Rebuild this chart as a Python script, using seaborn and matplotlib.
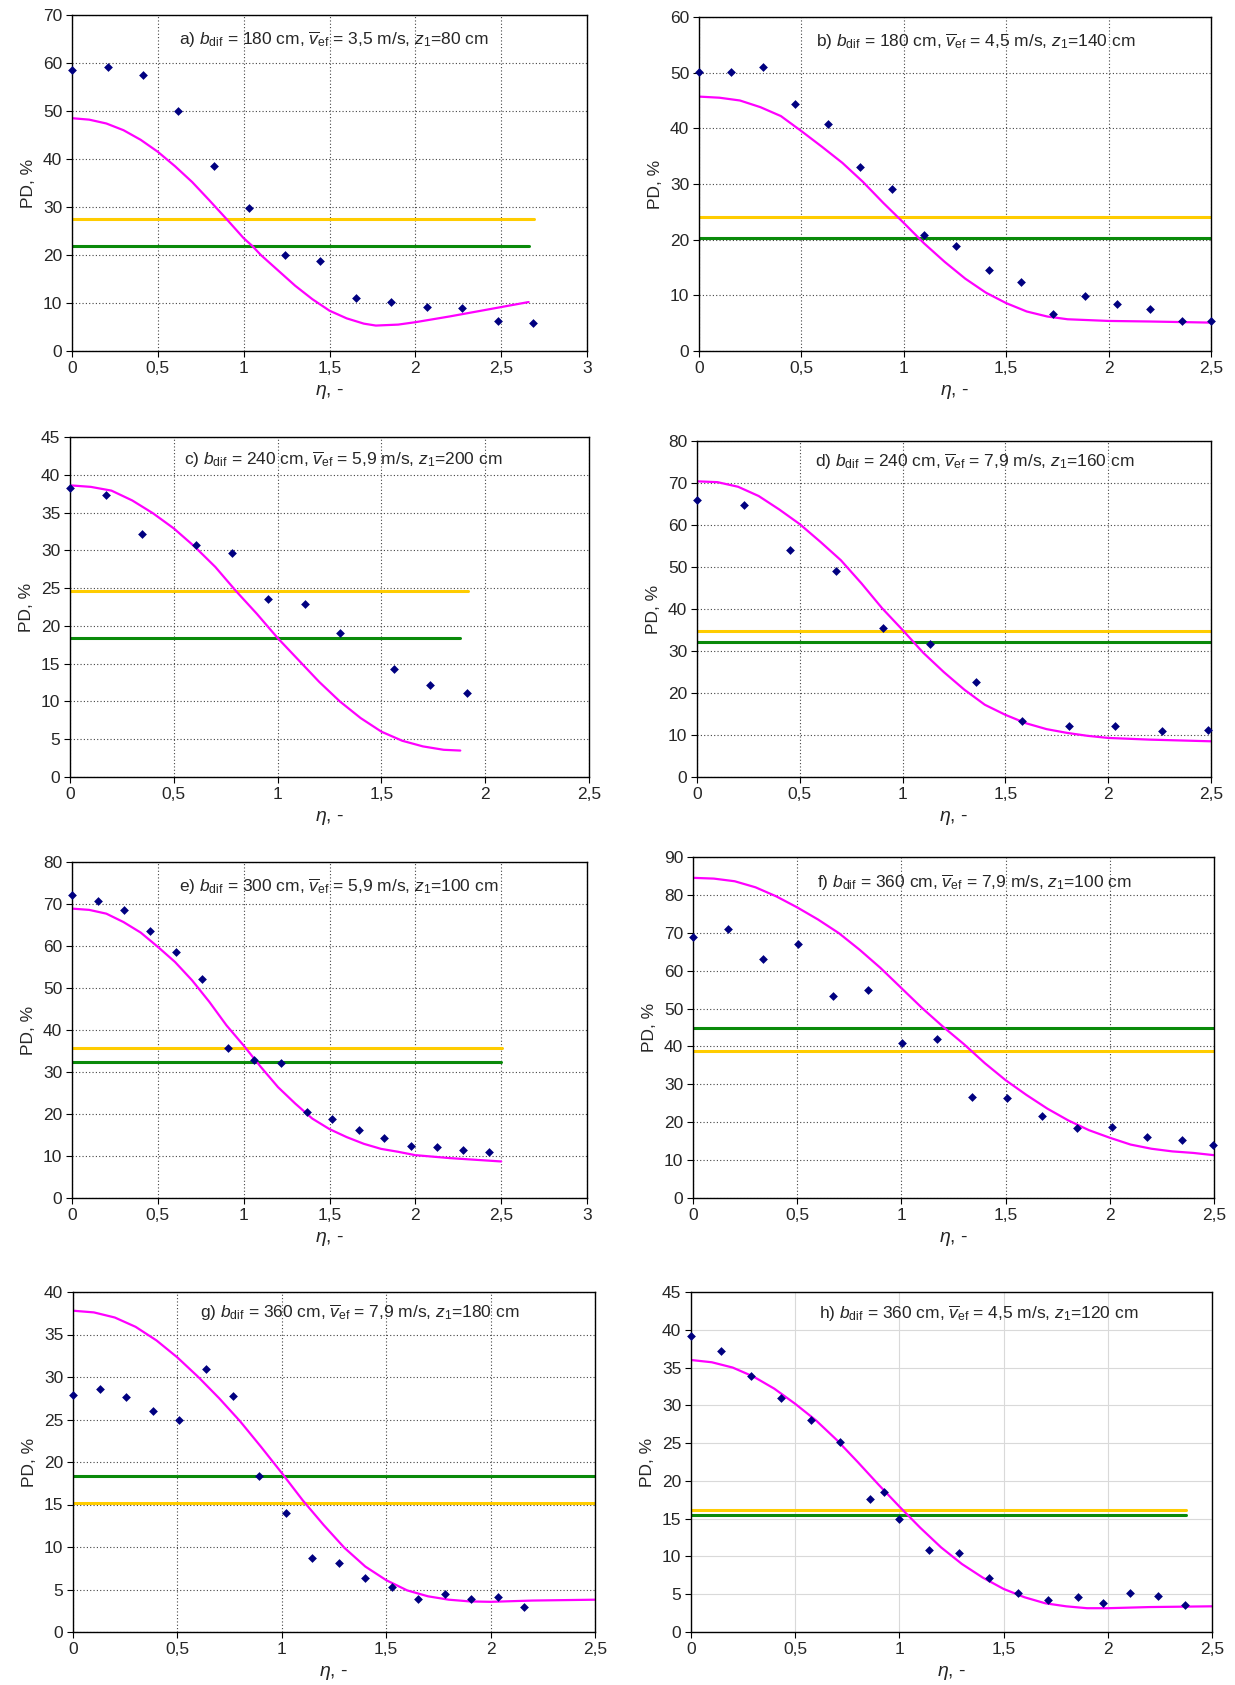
import matplotlib
matplotlib.use("Agg")
import matplotlib.pyplot as plt
from matplotlib.ticker import MultipleLocator, FuncFormatter
import seaborn as sns

# ---- measured points (eta, PD %) ----
a_eta = [0, 0.207, 0.413, 0.62, 0.827, 1.033, 1.24, 1.447, 1.653, 1.86, 2.067, 2.273, 2.48, 2.687]
a_pd = [58.6, 59.1, 57.6, 50.1, 38.5, 29.7, 19.9, 18.8, 11.0, 10.3, 9.2, 8.9, 6.3, 5.9]
b_eta = [0, 0.157, 0.314, 0.471, 0.628, 0.785, 0.943, 1.10, 1.257, 1.414, 1.571, 1.728, 1.885, 2.04, 2.2, 2.356, 2.5]
b_pd = [50.2, 50.2, 51.1, 44.4, 40.8, 33.1, 29.1, 20.9, 18.8, 14.6, 12.4, 6.7, 9.8, 8.4, 7.5, 5.3, 5.3]
c_eta = [0, 0.174, 0.349, 0.609, 0.781, 0.956, 1.13, 1.30, 1.563, 1.735, 1.91]
c_pd = [38.3, 37.3, 32.2, 30.7, 29.6, 23.6, 22.9, 19.1, 14.3, 12.2, 11.1]
d_eta = [0, 0.227, 0.452, 0.677, 0.904, 1.131, 1.358, 1.583, 1.81, 2.035, 2.26, 2.487]
d_pd = [65.9, 64.7, 54.0, 49.1, 35.4, 31.6, 22.6, 13.4, 12.2, 12.2, 10.9, 11.2]
e_eta = [0, 0.152, 0.302, 0.454, 0.606, 0.759, 0.911, 1.063, 1.215, 1.367, 1.517, 1.669, 1.82, 1.974, 2.126, 2.278, 2.43]
e_pd = [72.1, 70.7, 68.5, 63.6, 58.5, 52.2, 35.7, 32.8, 32.1, 20.5, 18.7, 16.2, 14.2, 12.4, 12.2, 11.5, 11.0]
f_eta = [0, 0.168, 0.335, 0.503, 0.67, 0.838, 1.005, 1.173, 1.34, 1.508, 1.675, 1.843, 2.012, 2.18, 2.348, 2.494]
f_pd = [69.0, 70.9, 63.1, 67.1, 53.2, 54.8, 40.9, 41.9, 26.7, 26.5, 21.7, 18.5, 18.8, 16.1, 15.4, 14.0]
g_eta = [0, 0.129, 0.255, 0.382, 0.509, 0.637, 0.764, 0.89, 1.019, 1.146, 1.272, 1.399, 1.526, 1.654, 1.781, 1.908, 2.034, 2.161]
g_pd = [27.9, 28.6, 27.7, 26.0, 24.9, 31.0, 27.8, 18.3, 14.0, 8.7, 8.1, 6.3, 5.3, 3.9, 4.5, 3.9, 4.1, 3.0]
h_eta = [0, 0.145, 0.288, 0.431, 0.574, 0.715, 0.858, 0.924, 1.0, 1.142, 1.285, 1.428, 1.571, 1.714, 1.855, 1.977, 2.107, 2.239, 2.37]
h_pd = [39.2, 37.2, 33.9, 31.0, 28.0, 25.2, 17.6, 18.5, 14.9, 10.8, 10.4, 7.1, 5.2, 4.3, 4.6, 3.8, 5.1, 4.7, 3.6]

# ---- model curves ----
a_cx = [0, 0.1, 0.2, 0.3, 0.4, 0.5, 0.6, 0.7, 0.8, 0.9, 1.0, 1.05, 1.1, 1.2, 1.3, 1.4, 1.5, 1.6, 1.7, 1.77, 1.9, 2.0, 2.2, 2.4, 2.66]
a_cy = [48.5, 48.2, 47.4, 46.0, 44.0, 41.5, 38.5, 35.2, 31.4, 27.5, 23.5, 21.9, 20.0, 16.8, 13.6, 10.8, 8.4, 6.8, 5.7, 5.3, 5.5, 6.0, 7.2, 8.5, 10.2]
b_cx = [0, 0.1, 0.2, 0.3, 0.4, 0.5, 0.6, 0.7, 0.8, 0.9, 1.0, 1.1, 1.2, 1.3, 1.4, 1.5, 1.6, 1.7, 1.8, 2.0, 2.2, 2.5]
b_cy = [45.7, 45.5, 45.0, 43.8, 42.2, 39.5, 36.7, 33.8, 30.4, 26.6, 23.0, 19.3, 16.0, 13.0, 10.5, 8.6, 7.1, 6.2, 5.7, 5.4, 5.3, 5.1]
c_cx = [0, 0.1, 0.2, 0.3, 0.4, 0.5, 0.6, 0.7, 0.8, 0.9, 1.0, 1.1, 1.2, 1.3, 1.4, 1.5, 1.6, 1.7, 1.8, 1.88]
c_cy = [38.6, 38.4, 37.9, 36.6, 34.9, 32.9, 30.5, 27.8, 24.6, 21.6, 18.4, 15.5, 12.6, 10.0, 7.8, 6.0, 4.8, 4.05, 3.6, 3.5]
d_cx = [0, 0.1, 0.2, 0.3, 0.4, 0.5, 0.6, 0.7, 0.8, 0.9, 1.0, 1.1, 1.2, 1.3, 1.4, 1.5, 1.6, 1.7, 1.8, 1.9, 2.0, 2.2, 2.5]
d_cy = [70.4, 70.2, 69.1, 66.9, 63.7, 60.2, 56.0, 51.6, 46.1, 40.2, 35.0, 29.6, 25.0, 20.8, 17.2, 14.8, 12.8, 11.4, 10.5, 9.8, 9.3, 8.9, 8.5]
e_cx = [0, 0.1, 0.2, 0.3, 0.4, 0.5, 0.6, 0.7, 0.8, 0.9, 1.0, 1.1, 1.2, 1.3, 1.4, 1.5, 1.6, 1.7, 1.8, 1.9, 2.0, 2.2, 2.5]
e_cy = [68.9, 68.6, 67.7, 65.7, 63.2, 59.8, 56.2, 51.8, 46.7, 41.1, 36.3, 31.2, 26.4, 22.5, 18.9, 16.4, 14.5, 12.9, 11.7, 11.0, 10.2, 9.5, 8.7]
f_cx = [0, 0.1, 0.2, 0.3, 0.4, 0.5, 0.6, 0.7, 0.8, 0.9, 1.0, 1.1, 1.2, 1.3, 1.4, 1.5, 1.6, 1.7, 1.8, 1.9, 2.0, 2.1, 2.2, 2.3, 2.4, 2.5]
f_cy = [84.5, 84.3, 83.6, 82.0, 79.6, 76.7, 73.5, 69.9, 65.5, 60.7, 55.4, 50.1, 45.2, 40.6, 35.6, 31.1, 27.2, 23.6, 20.5, 17.9, 15.9, 14.1, 13.0, 12.3, 11.9, 11.3]
g_cx = [0, 0.1, 0.2, 0.3, 0.4, 0.5, 0.6, 0.7, 0.8, 0.9, 1.0, 1.1, 1.2, 1.3, 1.4, 1.5, 1.6, 1.7, 1.8, 1.9, 2.0, 2.2, 2.5]
g_cy = [37.8, 37.6, 37.0, 35.9, 34.3, 32.3, 30.0, 27.5, 24.8, 21.8, 18.7, 15.5, 12.6, 9.9, 7.7, 6.1, 4.9, 4.2, 3.8, 3.6, 3.55, 3.7, 3.8]
h_cx = [0, 0.1, 0.2, 0.3, 0.4, 0.5, 0.6, 0.7, 0.8, 0.9, 1.0, 1.1, 1.2, 1.3, 1.4, 1.5, 1.6, 1.7, 1.8, 1.9, 2.0, 2.2, 2.5]
h_cy = [36.0, 35.7, 35.0, 33.8, 32.2, 30.2, 28.0, 25.4, 22.5, 19.5, 16.6, 13.8, 11.2, 9.0, 7.2, 5.7, 4.6, 3.8, 3.4, 3.15, 3.15, 3.3, 3.4]

# ---- threshold levels: (value, end of line on eta axis) ----
yellow = [(27.4, 2.69), (24.0, 2.5), (24.6, 1.915), (34.85, 2.5), (35.7, 2.505), (38.8, 2.5), (15.2, 2.5), (16.1, 2.374)]
green = [(21.9, 2.66), (20.3, 2.5), (18.35, 1.88), (32.1, 2.5), (32.5, 2.5), (45.0, 2.5), (18.3, 2.5), (15.5, 2.374)]

labels = ["a", "b", "c", "d", "e", "f", "g", "h"]
b_dif = [180, 180, 240, 240, 300, 360, 360, 360]
v_ef = ["3,5", "4,5", "5,9", "7,9", "5,9", "7,9", "7,9", "4,5"]
z_1 = [80, 140, 200, 160, 100, 100, 180, 120]
x_max = [3, 2.5, 2.5, 2.5, 3, 2.5, 2.5, 2.5]
y_max = [70, 60, 45, 80, 80, 90, 40, 45]
y_step = [10, 10, 5, 10, 10, 10, 5, 5]

points = [(a_eta, a_pd), (b_eta, b_pd), (c_eta, c_pd), (d_eta, d_pd),
          (e_eta, e_pd), (f_eta, f_pd), (g_eta, g_pd), (h_eta, h_pd)]
curves = [(a_cx, a_cy), (b_cx, b_cy), (c_cx, c_cy), (d_cx, d_cy),
          (e_cx, e_cy), (f_cx, f_cy), (g_cx, g_cy), (h_cx, h_cy)]

# axes boxes in pixels: left, top, right, bottom
boxes = [(72, 15, 587, 351), (699, 17, 1211, 351),
         (70, 437, 589, 777), (697, 441, 1211, 777),
         (72, 862, 587, 1198), (693, 857, 1214, 1198),
         (73, 1292, 595, 1632), (691, 1292, 1212, 1632)]
title_pos = [(0.508, 0.925), (0.54, 0.925), (0.526, 0.932), (0.54, 0.937),
             (0.517, 0.926), (0.54, 0.924), (0.55, 0.938), (0.553, 0.935)]

sns.set_style("white")
plt.rcParams["font.family"] = ["Liberation Sans", "DejaVu Sans"]
plt.rcParams["mathtext.fontset"] = "custom"
plt.rcParams["mathtext.rm"] = "Liberation Sans"
plt.rcParams["mathtext.it"] = "Liberation Sans:italic"

W, H = 1235, 1685
fig = plt.figure(figsize=(W / 100, H / 100), dpi=100)
comma = FuncFormatter(lambda v, p: f"{v:g}".replace(".", ","))

for i in range(8):
    l, t, r, b = boxes[i]
    ax = fig.add_axes([l / W, 1 - b / H, (r - l) / W, (b - t) / H])
    if labels[i] == "h":
        ax.grid(True, color="#d9d9d9", linestyle="-", linewidth=0.8)
    else:
        ax.grid(True, color="#444444", linestyle=(0, (1, 2)), linewidth=0.8)
    ax.set_axisbelow(True)

    yv, ye = yellow[i]
    gv, ge = green[i]
    sns.lineplot(x=[0, ye], y=[yv, yv], ax=ax, color="#FFCC00", linewidth=2.2)
    sns.lineplot(x=[0, ge], y=[gv, gv], ax=ax, color="#0A8A0A", linewidth=2.2)
    cx, cy = curves[i]
    sns.lineplot(x=cx, y=cy, ax=ax, color="#FF00FF", linewidth=1.6, sort=False)
    px, py = points[i]
    sns.scatterplot(x=px, y=py, ax=ax, marker="D", color="#000080", s=20,
                    linewidth=0, zorder=5, clip_on=False)

    ax.set_xlim(0, x_max[i])
    ax.set_ylim(0, y_max[i])
    ax.xaxis.set_major_locator(MultipleLocator(0.5))
    ax.yaxis.set_major_locator(MultipleLocator(y_step[i]))
    ax.xaxis.set_major_formatter(comma)
    ax.yaxis.set_major_formatter(comma)
    ax.tick_params(axis="both", direction="out", length=4, width=0.8,
                   labelsize=12.5, color="black", pad=3, bottom=True, left=True)
    for sp in ax.spines.values():
        sp.set_color("black")
        sp.set_linewidth(1.0)
    ax.set_xlabel(r"$\eta$, -", fontsize=14, labelpad=5)
    ax.set_ylabel("PD, %", fontsize=12.5, labelpad=5)

    title = (f"{labels[i]}) $b_{{\\rm dif}}$ = {b_dif[i]} cm, "
             f"$\\overline{{v}}_{{\\rm ef}}$ = {v_ef[i]} m/s, $z_1$={z_1[i]} cm")
    tx, ty = title_pos[i]
    ax.text(tx, ty, title, transform=ax.transAxes, ha="center", va="center",
            fontsize=12.5)

fig.savefig("out.png", dpi=100)
